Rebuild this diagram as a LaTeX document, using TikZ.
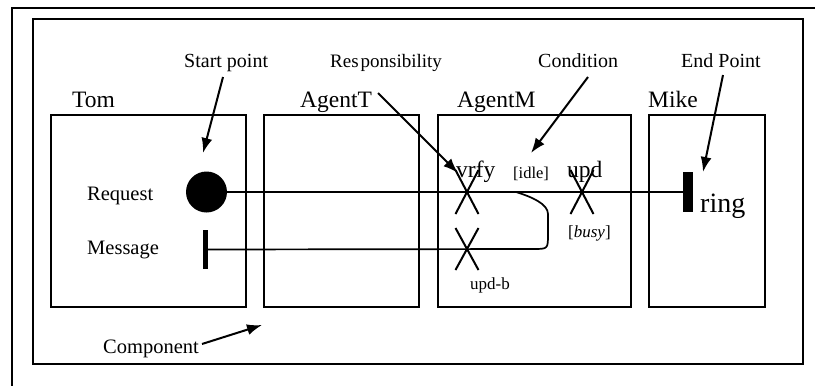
\documentclass[tikz,border=0pt]{standalone}
\usepackage{fontspec}
\setmainfont{Liberation Serif}
\usetikzlibrary{arrows.meta,shapes.misc}
\begin{document}
\begin{tikzpicture}[x=1pt,y=-1pt,
  frame/.style={line width=1.8pt},
  comp/.style={draw,line width=1.8pt,rectangle,inner sep=0pt},
  path/.style={line width=1.7pt},
  resp/.style={draw,cross out,line width=2pt,inner sep=0pt,minimum width=21pt,minimum height=42pt},
  note/.style={-{Latex[length=15pt,width=11pt]},line width=2pt},
  txt/.style={inner sep=0pt,anchor=base west},
  title/.style={txt,font=\fontsize{23.5}{26}\selectfont},
  ann/.style={txt,font=\fontsize{20}{22}\selectfont},
]
\useasboundingbox (0,0) rectangle (815,386);
\fill[white] (0,0) rectangle (815,386);

% outer and inner frames
\draw[line width=2.2pt] (12,386) -- (12,8) -- (815,8);
\draw[frame] (33,19) rectangle (803,364);

% components
\node[comp,minimum width=195pt,minimum height=192pt] (tom) at (148.5,211) {};
\node[comp,minimum width=155pt,minimum height=192pt] (agentT) at (341.5,211) {};
\node[comp,minimum width=193pt,minimum height=192pt] (agentM) at (534.5,211) {};
\node[comp,minimum width=116pt,minimum height=192pt] (mike) at (707,211) {};

\node[title] (tomlbl) at (72,107) {Tom};
\node[title] (agentTlbl) at (300,107) {AgentT};
\node[title] (agentMlbl) at (457,107) {AgentM};
\node[title] (mikelbl) at (648,107) {Mike};

% annotations
\node[ann] (startlbl) at (184,67) {Start point};
\node[ann,font=\fontsize{19}{22}\selectfont] (resplbl) at (330,67) {Res\hspace{2pt}ponsibility};
\node[ann] (condlbl) at (538,67) {Condition};
\node[ann] (endlbl) at (681,67) {End Point};
\node[txt,font=\fontsize{20.5}{22}\selectfont] (complbl) at (103,353) {Component};

% path labels
\node[txt,font=\fontsize{20.5}{22}\selectfont] (reqlbl) at (87,200) {Request};
\node[txt,font=\fontsize{20.5}{22}\selectfont] (msglbl) at (87,254) {Message};

% start and end points
\node[circle,fill=black,inner sep=0pt,minimum size=41pt] (start) at (206.5,192) {};
\node[rectangle,fill=black,inner sep=0pt,minimum width=5pt,minimum height=39pt] (msgbar) at (205.5,249.5) {};
\node[rectangle,fill=black,inner sep=0pt,minimum width=10pt,minimum height=40pt] (endbar) at (688,192) {};

% responsibilities
\node[resp] (vrfy) at (467,192) {};
\node[resp] (upd) at (582,192) {};
\node[resp,minimum height=40pt] (updb) at (467,249) {};

\node[txt,font=\fontsize{23.5}{25}\selectfont] (vrfylbl) at (456,177) {vrfy};
\node[txt,font=\fontsize{16.5}{18}\selectfont] (idlelbl) at (513,178) {[idle]};
\node[txt,font=\fontsize{23.5}{25}\selectfont] (updlbl) at (567,177) {upd};
\node[txt,font=\fontsize{17}{19}\selectfont] (busylbl) at (568,237) {[\textit{busy}]};
\node[txt,font=\fontsize{17}{19}\selectfont] (updblbl) at (470,289) {upd-b};
\node[txt,font=\fontsize{28}{30}\selectfont] (ringlbl) at (700,212) {ring};

% use case paths
\coordinate (join) at (516,192);
\draw[path] (start.east) -- (endbar.west);
\draw[path] (msgbar.east) -- (533,249) .. controls (548,249) .. (548,234)
  -- (548,214) .. controls (548,204) and (532,197) .. (join);

% annotation arrows
\coordinate (startT) at (223,77);  \coordinate (startH) at (203,153);
\coordinate (respT) at (378,93);   \coordinate (respH) at (458,173);
\coordinate (condT) at (588,77);   \coordinate (condH) at (531,153);
\coordinate (endT) at (723,75);    \coordinate (endH) at (703,172);
\coordinate (compT) at (202,344);  \coordinate (compH) at (262,325);
\draw[note] (startT) -- (startH);
\draw[note] (respT) -- (respH);
\draw[note] (condT) -- (condH);
\draw[note] (endT) -- (endH);
\draw[note] (compT) -- (compH);
\end{tikzpicture}
\end{document}
